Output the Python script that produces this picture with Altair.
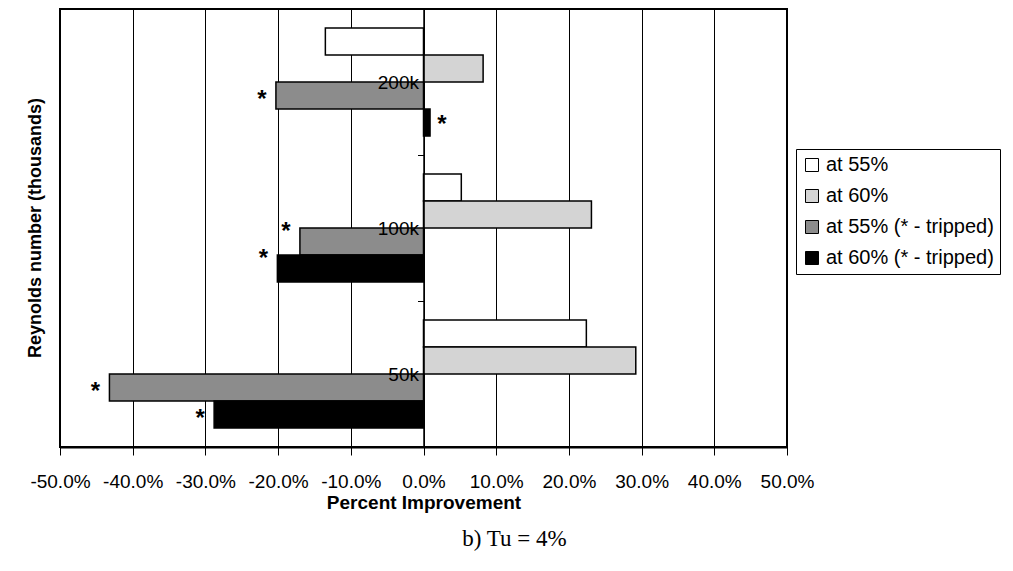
import altair as alt
import pandas as pd

groups = ["200k", "100k", "50k"]
series = ["at 55%", "at 60%", "at 55% (* - tripped)", "at 60% (* - tripped)"]
v_55 = [-13.5, 5.2, 22.4]
v_60 = [8.2, 23.1, 29.2]
v_55_tripped = [-20.3, -17.0, -43.2]
v_60_tripped = [0.9, -20.1, -28.8]
tripped_series = ["at 55% (* - tripped)", "at 60% (* - tripped)"]
x_ticks = [-50, -40, -30, -20, -10, 0, 10, 20, 30, 40, 50]
fills = ["#ffffff", "#d4d4d4", "#8c8c8c", "#000000"]

rows = []
for s, vals in zip(series, [v_55, v_60, v_55_tripped, v_60_tripped]):
    for g, v in zip(groups, vals):
        rows.append({"group": g, "series": s, "value": v})
df = pd.DataFrame(rows)
stars = df[df["series"].isin(tripped_series)].copy()
stars["star"] = "*"

W, H = 727, 438
FONT = "Liberation Sans"

x_enc = alt.X(
    "value:Q",
    scale=alt.Scale(domain=[-50, 50], nice=False, zero=False),
    axis=alt.Axis(
        values=x_ticks,
        labelExpr="replace(format(datum.value, '.1f'), '\u2212', '-') + '%'",
        title="Percent Improvement",
        titleFont=FONT, titleFontSize=19, titleFontWeight="bold", titleColor="black",
        titlePadding=2,
        labelFont=FONT, labelFontSize=19, labelColor="black", labelPadding=17,
        labelFlush=False,
        tickSize=8, tickColor="black", domainColor="black", domainWidth=2,
        grid=True, gridColor="black", gridWidth=1, gridOpacity=1,
        labelOverlap=False,
    ),
)
y_enc = alt.Y(
    "group:N",
    sort=groups,
    scale=alt.Scale(paddingInner=0, paddingOuter=0),
    axis=alt.Axis(
        orient="left", offset=-W / 2, title=None, tickBand="extent",
        tickSize=6, tickColor="black", labelPadding=-1,
        labelFont=FONT, labelFontSize=19, labelColor="black",
        domainColor="black", domainWidth=1.5, grid=False, zindex=1,
    ),
)
yoff = alt.YOffset("series:N", sort=series, scale=alt.Scale(paddingInner=0, paddingOuter=0.7))

bars = alt.Chart(df).mark_bar(stroke="black", strokeWidth=1.5, cornerRadius=0).encode(
    x=x_enc,
    y=y_enc,
    yOffset=yoff,
    fill=alt.Fill(
        "series:N",
        sort=series,
        scale=alt.Scale(domain=series, range=fills),
        legend=alt.Legend(
            title=None, orient="none", legendX=736, legendY=140,
            strokeColor="black", padding=6, rowPadding=11,
            symbolType="square", symbolSize=169, symbolStrokeColor="black",
            symbolStrokeWidth=1, labelFont=FONT, labelFontSize=20,
            labelColor="black", labelOffset=4, labelLimit=400,
        ),
    ),
)

def star_layer(dx, dy, cond):
    return alt.Chart(stars).mark_text(
        font=FONT, fontSize=24, fontWeight="bold", color="black",
        baseline="middle", dx=dx, dy=dy,
    ).encode(
        x="value:Q",
        y=alt.Y("group:N", sort=groups),
        yOffset=alt.YOffset("series:N", sort=series),
        text="star:N",
    ).transform_filter(cond)

star_neg = star_layer(-14, 4, "datum.value < 0 && datum.group != '100k'")
star_100 = star_layer(-14, -10, "datum.group == '100k'")
star_pos = star_layer(12, 2, "datum.value > 0")

ytitle = alt.Chart(alt.Data(values=[{"t": "Reynolds number (thousands)"}])).mark_text(
    font=FONT, fontSize=18, fontWeight="bold", color="black", angle=270,
    baseline="middle", align="center",
).encode(x=alt.value(-24), y=alt.value(H / 2), text="t:N")

chart = alt.layer(bars, star_neg, star_100, star_pos, ytitle).properties(
    width=W, height=H,
    autosize=alt.AutoSizeParams(type="none"),
    padding={"left": 52, "top": 1, "right": 218, "bottom": 110},
    title=alt.TitleParams(
        "b) Tu = 4%", orient="bottom", anchor="middle", font="Liberation Serif",
        fontSize=23, fontWeight="normal", color="black", dx=91, offset=16,
    ),
).configure(background="white").configure_view(stroke="black", strokeWidth=2)

chart.save("out.html", embed_options={"renderer": "svg", "actions": False})
